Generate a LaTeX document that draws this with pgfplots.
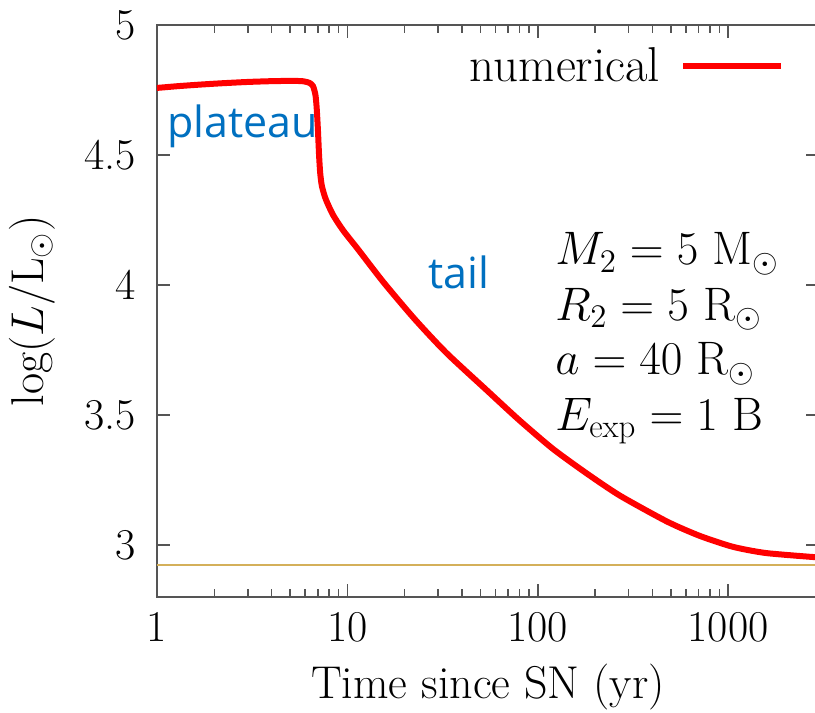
\RequirePackage{fix-cm}
\documentclass[border=0pt]{standalone}
\usepackage{fontspec}
\usepackage{pgfplots}
\pgfplotsset{compat=1.18}
\newfontfamily\osans{Open Sans}
\definecolor{annblue}{RGB}{0,112,192}
\definecolor{floorline}{RGB}{212,176,90}
\definecolor{axgray}{RGB}{85,85,85}
\newcommand{\bigfont}{\fontsize{22}{26}\selectfont}
\newcommand{\labfont}{\fontsize{23}{27}\selectfont}
\newcommand{\parfont}{\fontsize{23.5}{28}\selectfont}

\begin{document}
\begin{tikzpicture}
\begin{axis}[
    at={(0,0)}, anchor=south west,
    scale only axis,
    width=331pt, height=286pt,
    xmode=log,
    xmin=1, xmax=3000,
    ymin=2.8, ymax=5,
    xtick={1,10,100,1000},
    xticklabels={1,10,100,1000},
    ytick={3,3.5,4,4.5,5},
    yticklabels={3,3.5,4,4.5,5},
    tick align=inside,
    major tick length=6.5pt,
    minor tick length=4pt,
    axis line style={axgray, line width=0.8pt},
    every tick/.style={axgray, line width=0.8pt},
    tick label style={font=\bigfont},
    xticklabel style={yshift=-4pt},
    yticklabel style={xshift=-7pt},
    xlabel={Time since SN (yr)},
    ylabel={$\log(L/\mathrm{L}_\odot)$},
    label style={font=\labfont},
    xlabel style={yshift=-4pt},
    ylabel style={yshift=8pt},
    legend plot pos=right,
    legend style={draw=none, fill=none, font=\fontsize{24.5}{29}\selectfont,
        at={(rel axis cs:0.957,0.976)}, anchor=north east},
    legend cell align=right,
    legend image code/.code={\path (0pt,0pt); \draw[#1] (8pt,0pt) -- (57pt,0pt);},
    clip=true,
]
\addplot[red, line width=3pt, line join=round, smooth, tension=0.4] coordinates {
    (1.00,4.758) (1.3,4.765) (1.7,4.771) (2.2,4.776) (3.0,4.781)
    (4.0,4.784) (5.0,4.785) (5.8,4.784) (6.3,4.778) (6.6,4.765)
    (6.8,4.73) (6.9,4.68) (7.0,4.60) (7.1,4.50) (7.2,4.43)
    (7.35,4.38) (7.7,4.33) (8.4,4.27) (9.5,4.21) (11.3,4.14)
    (15.5,4.01) (22.5,3.87) (33,3.74) (54,3.595) (80,3.48)
    (120,3.37) (181,3.275) (270,3.19) (478,3.09) (710,3.035)
    (1060,2.993) (1585,2.969) (3000,2.952)
};
\addlegendentry{numerical}
\addplot[floorline, line width=0.75pt, forget plot] coordinates {
    (1,2.923) (3000,2.923)
};
\node[anchor=base west, text=annblue, font=\osans\fontsize{21.5}{25}\selectfont, inner sep=0pt]
    at (axis cs:1.13,4.569) {plateau};
\node[anchor=base west, text=annblue, font=\osans\fontsize{21.5}{25}\selectfont, inner sep=0pt]
    at (axis cs:26.5,3.988) {tail};
\node[anchor=base west, font=\parfont, inner sep=0pt] at (axis cs:123,4.077) {$M_2 = 5~\mathrm{M}_\odot$};
\node[anchor=base west, font=\parfont, inner sep=0pt] at (axis cs:123,3.865) {$R_2 = 5~\mathrm{R}_\odot$};
\node[anchor=base west, font=\parfont, inner sep=0pt] at (axis cs:123,3.654) {$a = 40~\mathrm{R}_\odot$};
\node[anchor=base west, font=\parfont, inner sep=0pt] at (axis cs:123,3.442) {$E_{\mathrm{exp}} = 1~\mathrm{B}$};
\end{axis}
\pgfresetboundingbox
\path[use as bounding box] (-78.5pt,-58pt) rectangle (329pt,298.5pt);
\end{tikzpicture}
\end{document}
